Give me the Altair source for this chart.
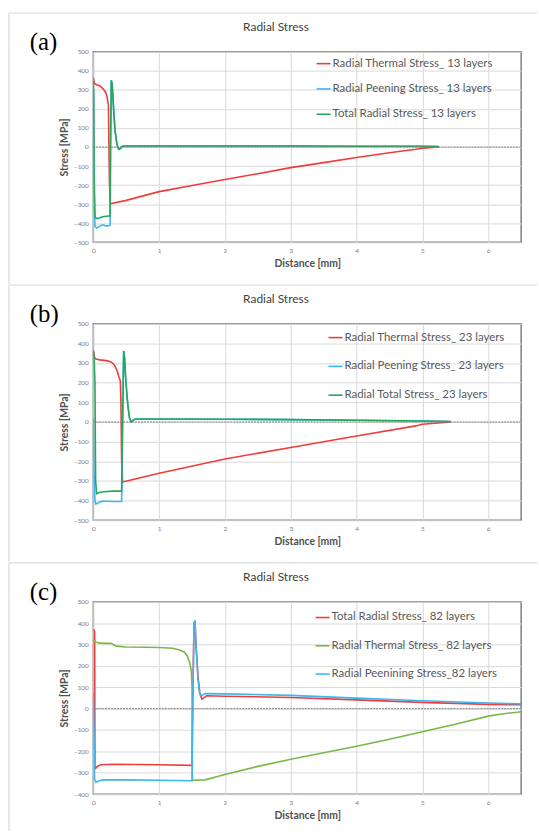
import altair as alt
import pandas as pd

# ---------------- data ----------------
X_TICKS = [0, 1, 2, 3, 4, 5, 6]

# Panel (a) : 13 layers
a_names = ["Radial Thermal Stress_ 13 layers", "Radial Peening Stress_ 13 layers", "Total Radial Stress_ 13 layers"]
a_thermal_x = [0, 0.015, 0.05, 0.1, 0.15, 0.19, 0.21, 0.225, 0.23, 0.235, 0.245, 0.258, 0.5, 1, 1.5, 2, 2.5, 3, 3.5, 4, 4.5, 4.9, 5.0, 5.25]
a_thermal_y = [365, 335, 327, 320, 305, 285, 262, 228, 220, 60, -180, -298, -280, -234, -202, -170, -140, -108, -82, -55, -30, -12, -6, 0]
a_peening_x = [0, 0.004, 0.012, 0.025, 0.05, 0.09, 0.14, 0.2, 0.24, 0.255, 0.262, 0.272, 0.285, 0.3, 0.315, 0.33, 0.35, 0.37, 0.39, 0.41, 0.43, 0.45, 1, 2, 3, 4, 5, 5.25]
a_peening_y = [0, 300, -200, -415, -425, -418, -408, -415, -412, -410, 0, 350, 330, 250, 160, 90, 35, 0, -12, -8, 0, 5, 5, 5, 5, 4, 4, 3]
a_total_x = [0, 0.004, 0.012, 0.025, 0.05, 0.09, 0.14, 0.2, 0.24, 0.255, 0.262, 0.274, 0.287, 0.3, 0.315, 0.33, 0.35, 0.37, 0.39, 0.41, 0.43, 0.45, 1, 2, 3, 4, 5, 5.25]
a_total_y = [0, 345, -150, -368, -375, -372, -366, -363, -362, -362, 0, 350, 330, 250, 160, 90, 35, 0, -12, -8, 0, 5, 5, 5, 5, 4, 4, 3]

# Panel (b) : 23 layers
b_names = ["Radial Thermal Stress_ 23 layers", "Radial Peening Stress_ 23 layers", "Radial Total Stress_ 23 layers"]
b_thermal_x = [0, 0.015, 0.04, 0.1, 0.2, 0.27, 0.32, 0.36, 0.39, 0.41, 0.42, 0.43, 0.445, 1, 2, 3, 4, 4.9, 5.0, 5.43]
b_thermal_y = [365, 330, 320, 316, 312, 305, 290, 262, 228, 210, 100, -200, -305, -261, -188, -130, -71, -20, -12, 0]
b_peening_x = [0, 0.01, 0.025, 0.04, 0.08, 0.15, 0.2, 0.3, 0.43, 0.445, 0.46, 0.475, 0.49, 0.51, 0.53, 0.55, 0.575, 0.6, 0.63, 0.66, 1, 2, 3, 4, 5, 5.43]
b_peening_y = [20, -250, -405, -418, -410, -402, -403, -405, -405, 0, 362, 320, 230, 140, 70, 20, 0, 8, 14, 15, 15, 14, 12, 9, 5, 2]
b_total_x = [0, 0.01, 0.025, 0.035, 0.05, 0.08, 0.15, 0.3, 0.43, 0.445, 0.462, 0.477, 0.49, 0.51, 0.53, 0.55, 0.575, 0.6, 0.63, 0.66, 1, 2, 3, 4, 5, 5.43]
b_total_y = [360, 340, 200, -300, -365, -360, -355, -352, -352, 0, 360, 320, 230, 140, 70, 20, 0, 8, 14, 15, 15, 14, 12, 9, 5, 2]

# Panel (c) : 82 layers
c_names = ["Total Radial Stress_ 82 layers", "Radial Thermal Stress_ 82 layers", "Radial Peenining Stress_82 layers"]
c_total_x = [0.005, 0.02, 0.025, 0.04, 0.07, 0.12, 0.3, 1.0, 1.5, 1.51, 1.53, 1.545, 1.56, 1.59, 1.62, 1.65, 1.68, 1.72, 2, 3, 4, 5, 6, 6.5]
c_total_y = [370, 360, -280, -278, -268, -262, -260, -262, -265, 0, 400, 410, 300, 150, 70, 45, 50, 60, 58, 52, 41, 29, 20, 18]
c_thermal_x = [0, 0.05, 0.1, 0.2, 0.27, 0.3, 0.35, 0.5, 0.8, 1.0, 1.2, 1.3, 1.38, 1.43, 1.47, 1.49, 1.5, 1.505, 1.7, 2, 2.5, 3, 3.5, 4, 4.5, 5, 5.5, 6, 6.2, 6.5]
c_thermal_y = [320, 310, 306, 305, 305, 300, 292, 288, 287, 286, 282, 275, 265, 245, 210, 170, 100, -335, -333, -308, -270, -237, -206, -176, -143, -108, -73, -35, -25, -15]
c_peening_x = [0, 0.01, 0.02, 0.04, 0.08, 0.15, 0.5, 1.0, 1.5, 1.51, 1.53, 1.545, 1.56, 1.59, 1.61, 1.63, 1.67, 1.7, 2, 3, 4, 5, 6, 6.5]
c_peening_y = [75, -100, -330, -345, -338, -333, -333, -335, -337, 0, 400, 412, 300, 140, 80, 62, 65, 70, 69, 62, 49, 37, 26, 22]

RED = "#F23B3B"
BLUE = "#3BB6F0"
GREEN = "#22A85A"
OLIVE = "#7AB648"

PLOT_W = 431


def make_panel(label, names, xs_list, ys_list, colors, ydom, yvals, h,
               leg_x, leg_y, row_pad, frame_bottom):
    frames = []
    for k, (name, xs, ys) in enumerate(zip(names, xs_list, ys_list)):
        frames.append(pd.DataFrame({"x": xs, "y": ys, "series": name,
                                    "i": list(range(len(xs))), "z": k}))
    df = pd.concat(frames, ignore_index=True)

    xsc = alt.Scale(domain=[0, 6.5], nice=False, zero=False)
    ysc = alt.Scale(domain=ydom, nice=False, zero=False)

    xaxis = alt.Axis(values=X_TICKS, title="Distance [mm]",
                     titlePadding=5, labelPadding=5, format="d",
                     labelOverlap=False, labelFlush=False, grid=True)
    yaxis = alt.Axis(values=yvals, title="Stress [MPa]",
                     titlePadding=4, labelPadding=5, format="d",
                     labelOverlap=False, labelFlush=False, grid=True)
    xenc = alt.X("x:Q", scale=xsc, axis=xaxis)
    yenc = alt.Y("y:Q", scale=ysc, axis=yaxis)

    one = pd.DataFrame({"y": [0]})

    frame_top = alt.Chart(one).mark_rule(color="#D9D9D9", strokeWidth=1.2).encode(
        x=alt.value(-85), x2=alt.value(447), y=alt.value(-39))
    frame_left = alt.Chart(one).mark_rule(color="#D9D9D9", strokeWidth=1.2).encode(
        x=alt.value(-85), y=alt.value(-39), y2=alt.value(frame_bottom))

    lines = alt.Chart(df).mark_line(strokeWidth=1.6, clip=True).encode(
        x=xenc, y=yenc,
        color=alt.Color("series:N", sort=names,
                        scale=alt.Scale(domain=names, range=colors),
                        legend=alt.Legend(title=None, orient="none",
                                          legendX=leg_x, legendY=leg_y,
                                          rowPadding=row_pad)),
        order=alt.Order("i:Q"),
    )

    zero = alt.Chart(one).mark_rule(color="#808080", strokeDash=[2, 1],
                                    strokeWidth=1).encode(y=yenc)

    lab = alt.Chart(one).mark_text(text=label, font="Liberation Serif",
                                   fontSize=25, align="left",
                                   baseline="middle", color="black").encode(
        x=alt.value(-64), y=alt.value(-10))
    ttl = alt.Chart(one).mark_text(text="Radial Stress", font="Lato",
                                   fontSize=12, align="center",
                                   baseline="middle", color="#404040").encode(
        x=alt.value(184), y=alt.value(-25))

    return alt.layer(lines, frame_top, frame_left, zero, lab, ttl).properties(
        width=PLOT_W, height=h
    ).resolve_scale(color="independent")


pa = make_panel("(a)", a_names, [a_thermal_x, a_peening_x, a_total_x],
                [a_thermal_y, a_peening_y, a_total_y], [RED, BLUE, GREEN],
                [-500, 500], list(range(-500, 501, 100)), 192,
                224, 4, 11.5, 234)
pb = make_panel("(b)", b_names, [b_thermal_x, b_peening_x, b_total_x],
                [b_thermal_y, b_peening_y, b_total_y], [RED, BLUE, GREEN],
                [-500, 500], list(range(-500, 501, 100)), 198,
                236, 6, 15, 240)
pc = make_panel("(c)", c_names, [c_total_x, c_thermal_x, c_peening_x],
                [c_total_y, c_thermal_y, c_peening_y], [RED, OLIVE, BLUE],
                [-400, 500], list(range(-400, 501, 100)), 194,
                223, 8, 14.5, 231)

chart = alt.vconcat(pa, pb, pc, spacing=82, bounds="flush").resolve_scale(
    color="independent"
).resolve_legend(color="independent").properties(
    padding={"left": 7, "top": 8, "right": 0, "bottom": 0},
    background="white",
).configure_view(
    stroke="#808080", strokeWidth=1.5
).configure_axis(
    labelFont="Lato", labelFontSize=6.5, labelColor="#808080",
    gridColor="#D9D9D9", gridWidth=1, domain=False, ticks=False,
    titleFont="Lato", titleFontSize=10.5, titleColor="#505050",
    titleFontWeight="bold",
).configure_legend(
    labelFont="Lato", labelFontSize=11.5, labelColor="#595959",
    symbolType="stroke", symbolSize=200, symbolStrokeWidth=1.6,
    labelOffset=1, padding=0, labelLimit=300,
)

chart.save("out.html", embed_options={"renderer": "svg", "actions": False})
